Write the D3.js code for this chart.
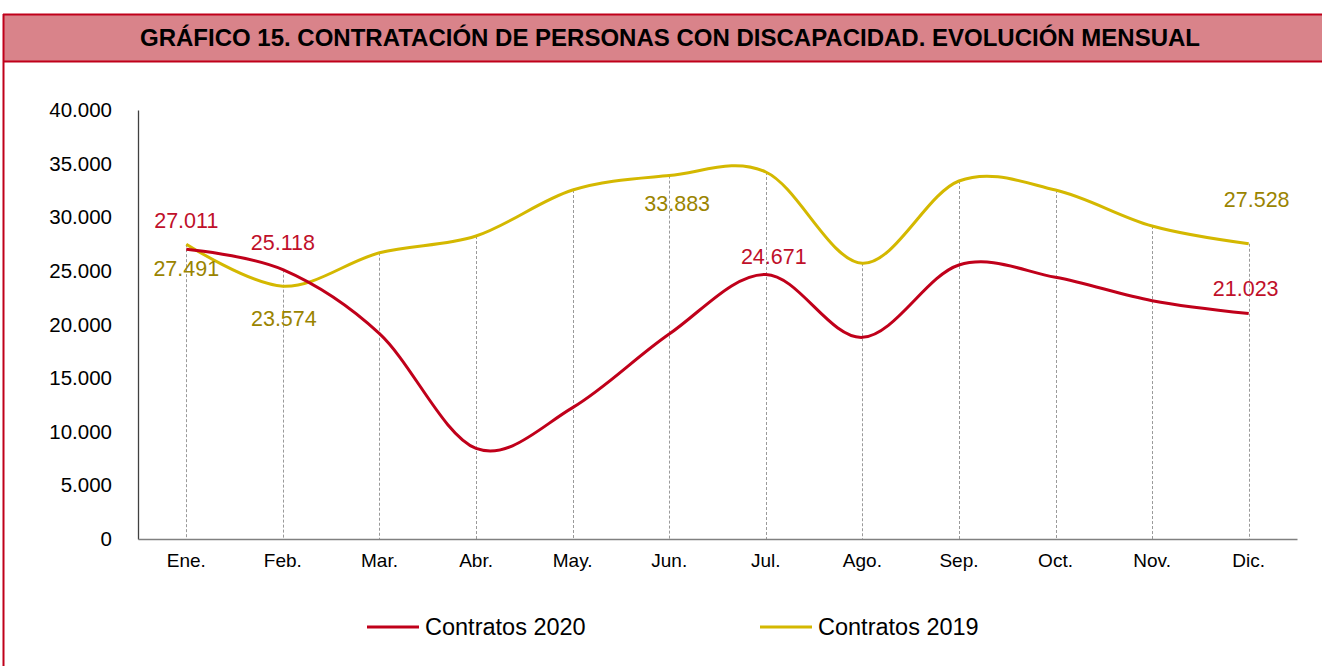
<!DOCTYPE html>
<html>
<head>
<meta charset="utf-8">
<script src="https://cdn.jsdelivr.net/npm/d3@7"></script>
<style>
  body { margin: 0; background: #fff; }
  svg text { font-family: Arial, "Liberation Sans", sans-serif; }
</style>
</head>
<body>
<svg id="chart"></svg>
<script>
// data
var months = ["Ene.", "Feb.", "Mar.", "Abr.", "May.", "Jun.", "Jul.", "Ago.", "Sep.", "Oct.", "Nov.", "Dic."];
var contratos2020 = [27011, 25118, 19150, 8450, 12250, 19110, 24671, 18800, 25550, 24400, 22220, 21023];
var contratos2019 = [27491, 23574, 26690, 28250, 32540, 33883, 34220, 25710, 33380, 32540, 29180, 27528];
var yTicks = [0, 5000, 10000, 15000, 20000, 25000, 30000, 35000, 40000];
var seriesNames = ["Contratos 2020", "Contratos 2019"];
var labeled2020 = [0, 1, 6, 11];
var labeled2019 = [0, 1, 5, 11];

var W = 1322, H = 666;
var red = "#c0001a", gold = "#d4b800";

// where each data label sits relative to its point (dx, dy of text centre)
var labelPos2020 = {0: [0, -29], 1: [0, -27], 6: [8, -18], 11: [-3, -25]};
var labelPos2019 = {0: [0, 24], 1: [1, 32], 5: [8, 28], 11: [8, -44]};

var svg = d3.select("#chart").attr("width", W).attr("height", H);

// frame + header
svg.append("rect").attr("x", 4).attr("y", 14).attr("width", W - 4).attr("height", 48)
  .attr("fill", "#d9838a");
svg.append("line").attr("x1", 3).attr("x2", W).attr("y1", 14.5).attr("y2", 14.5)
  .attr("stroke", red).attr("stroke-width", 2);
svg.append("line").attr("x1", 3).attr("x2", W).attr("y1", 61.5).attr("y2", 61.5)
  .attr("stroke", red).attr("stroke-width", 2);
svg.append("line").attr("x1", 3.5).attr("x2", 3.5).attr("y1", 14).attr("y2", H)
  .attr("stroke", red).attr("stroke-width", 2);

svg.append("text")
  .attr("x", 670).attr("y", 38).attr("dy", "0.35em")
  .attr("text-anchor", "middle")
  .attr("font-size", 24).attr("font-weight", "bold").attr("fill", "#000")
  .text("GRÁFICO 15. CONTRATACIÓN DE PERSONAS CON DISCAPACIDAD. EVOLUCIÓN MENSUAL");

// scales
var x = d3.scaleBand().domain(months).range([138, 1297]);
var y = d3.scaleLinear().domain([0, 40000]).range([539, 110]);
var fmt = d3.formatLocale({decimal: ",", thousands: ".", grouping: [3]}).format(",d");

function cx(i) { return x(months[i]) + x.bandwidth() / 2; }

// drop lines, from the higher point down to the axis
svg.append("g").selectAll("line")
  .data(months)
  .join("line")
  .attr("x1", function(d, i) { return Math.round(cx(i)) + 0.5; })
  .attr("x2", function(d, i) { return Math.round(cx(i)) + 0.5; })
  .attr("y1", function(d, i) { return y(Math.max(contratos2020[i], contratos2019[i])); })
  .attr("y2", y(0))
  .attr("stroke", "#9a9a9a").attr("stroke-width", 1)
  .attr("stroke-dasharray", "3,2");

// y axis
var yAxis = svg.append("g").attr("transform", "translate(138,0)")
  .call(d3.axisLeft(y).tickValues(yTicks).tickSize(0).tickPadding(26).tickFormat(function(d) { return fmt(d); }));
yAxis.select(".domain").attr("stroke", "#404040").attr("stroke-width", 1.3);
yAxis.selectAll("text").attr("font-size", 20.5).attr("fill", "#000")
  .attr("font-family", "Arial, 'Liberation Sans', sans-serif");

// x axis
var xAxis = svg.append("g").attr("transform", "translate(0,539)")
  .call(d3.axisBottom(x).tickSize(0).tickPadding(15));
xAxis.select(".domain").attr("stroke", "#808080").attr("stroke-width", 1.5);
xAxis.selectAll("text").attr("font-size", 19).attr("fill", "#000")
  .attr("font-family", "Arial, 'Liberation Sans', sans-serif");

// lines
var line = d3.line()
  .x(function(d, i) { return cx(i); })
  .y(function(d) { return y(d); })
  .curve(d3.curveCardinal.tension(0));

svg.append("path").datum(contratos2019).attr("d", line)
  .attr("fill", "none").attr("stroke", gold).attr("stroke-width", 3);
svg.append("path").datum(contratos2020).attr("d", line)
  .attr("fill", "none").attr("stroke", red).attr("stroke-width", 3);

// data labels
function addLabels(idx, values, pos, color) {
  svg.append("g").selectAll("text")
    .data(idx)
    .join("text")
    .attr("x", function(i) { return cx(i) + pos[i][0]; })
    .attr("y", function(i) { return y(values[i]) + pos[i][1]; })
    .attr("dy", "0.35em")
    .attr("text-anchor", "middle")
    .attr("font-size", 21.5)
    .attr("fill", color)
    .text(function(i) { return fmt(values[i]); });
}
addLabels(labeled2020, contratos2020, labelPos2020, "#c0102a");
addLabels(labeled2019, contratos2019, labelPos2019, "#9a8400");

// legend
var legend = svg.append("g").selectAll("g")
  .data(seriesNames)
  .join("g")
  .attr("transform", function(d, i) { return "translate(" + (367 + i * 393) + ",627)"; });
legend.append("line").attr("x1", 0).attr("x2", 52)
  .attr("stroke", function(d, i) { return i ? gold : red; }).attr("stroke-width", 3);
legend.append("text").attr("x", 58).attr("dy", "0.35em")
  .attr("font-size", 23.5).attr("fill", "#000")
  .text(function(d) { return d; });
</script>
</body>
</html>
